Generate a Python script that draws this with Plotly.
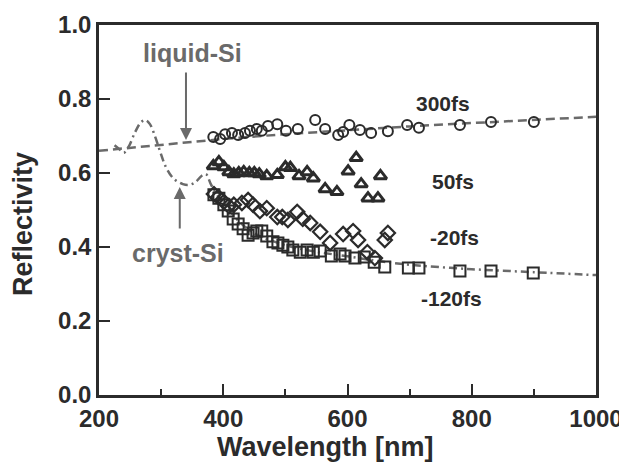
import plotly.graph_objects as go

# ---- data (wavelength nm, reflectivity) ----
fs300_x = [384, 395, 403, 414, 424, 435, 443, 454, 462, 472, 487, 501, 520, 548, 564, 585, 593, 603, 620, 638, 665, 696, 715, 781, 831, 900]
fs300_y = [0.697, 0.692, 0.705, 0.708, 0.703, 0.708, 0.714, 0.719, 0.714, 0.727, 0.732, 0.714, 0.719, 0.743, 0.719, 0.703, 0.711, 0.730, 0.716, 0.708, 0.713, 0.730, 0.722, 0.730, 0.738, 0.738]

fs50_x = [384, 393, 401, 409, 417, 425, 433, 442, 450, 458, 470, 487, 500, 508, 522, 535, 545, 564, 583, 601, 614, 622, 633, 649, 653]
fs50_y = [0.619, 0.630, 0.616, 0.603, 0.597, 0.600, 0.603, 0.600, 0.600, 0.597, 0.592, 0.595, 0.616, 0.614, 0.592, 0.603, 0.586, 0.557, 0.549, 0.605, 0.641, 0.570, 0.532, 0.532, 0.592]

fsm20_x = [385, 392, 401, 409, 417, 430, 440, 448, 459, 470, 487, 495, 504, 519, 528, 540, 556, 572, 593, 609, 617, 632, 644, 660, 665]
fsm20_y = [0.543, 0.535, 0.522, 0.511, 0.514, 0.519, 0.527, 0.514, 0.497, 0.505, 0.481, 0.481, 0.473, 0.495, 0.476, 0.465, 0.441, 0.411, 0.435, 0.443, 0.419, 0.386, 0.370, 0.419, 0.438]

fsm120_x = [385, 393, 401, 408, 416, 424, 432, 440, 448, 454, 462, 470, 480, 488, 496, 504, 512, 524, 535, 545, 556, 574, 588, 596, 612, 627, 643, 660, 698, 715, 781, 831, 899]
fsm120_y = [0.541, 0.532, 0.514, 0.497, 0.476, 0.462, 0.449, 0.432, 0.438, 0.443, 0.443, 0.430, 0.414, 0.411, 0.405, 0.400, 0.392, 0.386, 0.392, 0.386, 0.389, 0.376, 0.381, 0.376, 0.370, 0.373, 0.359, 0.346, 0.343, 0.343, 0.335, 0.335, 0.330]

liquid_x = [200, 250, 300, 350, 400, 500, 600, 700, 800, 900, 1000]
liquid_y = [0.660, 0.668, 0.676, 0.684, 0.692, 0.705, 0.716, 0.726, 0.735, 0.744, 0.752]

cryst_x = [225, 233, 240, 248, 258, 268, 275, 282, 290, 298, 308, 320, 335, 345, 355, 365, 372, 380, 388, 400, 425, 450, 500, 550, 600, 650, 700, 800, 900, 1000]
cryst_y = [0.675, 0.664, 0.655, 0.672, 0.710, 0.738, 0.743, 0.732, 0.700, 0.660, 0.615, 0.585, 0.570, 0.568, 0.575, 0.592, 0.597, 0.570, 0.545, 0.520, 0.470, 0.437, 0.405, 0.387, 0.375, 0.362, 0.352, 0.340, 0.332, 0.324]

series_labels = ["300fs", "50fs", "-20fs", "-120fs"]
label_x = [754, 770, 773, 768]
label_y = [0.789, 0.576, 0.427, 0.262]

x_title = "Wavelength [nm]"
y_title = "Reflectivity"

FONT = "Liberation Sans, Arial, Helvetica, sans-serif"
DARK = "#2b2b2b"
GRAY = "#6a6a6a"

fig = go.Figure()
fig.add_trace(go.Scatter(x=liquid_x, y=liquid_y, mode="lines",
                         line=dict(color=GRAY, width=2.5, dash="9px,5px"), hoverinfo="skip"))
fig.add_trace(go.Scatter(x=cryst_x, y=cryst_y, mode="lines", line_shape="spline",
                         line=dict(color=GRAY, width=2.5, dash="8px,4px,2px,4px"), hoverinfo="skip"))

fig.add_trace(go.Scatter(x=fs300_x, y=fs300_y, mode="markers",
                         marker=dict(symbol="circle-open", size=10, color=DARK, line=dict(width=2))))
fig.add_trace(go.Scatter(x=fs50_x, y=fs50_y, mode="markers",
                         marker=dict(symbol="triangle-up-open", size=11, color=DARK, line=dict(width=3))))
fig.add_trace(go.Scatter(x=fsm20_x, y=fsm20_y, mode="markers",
                         marker=dict(symbol="diamond-open", size=11, color=DARK, line=dict(width=2.2))))
fig.add_trace(go.Scatter(x=fsm120_x, y=fsm120_y, mode="markers",
                         marker=dict(symbol="square-open", size=11, color=DARK, line=dict(width=2))))

annotations = []
for t, x, y in zip(series_labels, label_x, label_y):
    annotations.append(dict(x=x, y=y, text="<b>" + t + "</b>", showarrow=False,
                            font=dict(family=FONT, size=21, color=DARK)))

annotations.append(dict(x=350, y=0.924, text="<b>liquid-Si</b>", showarrow=False,
                        font=dict(family=FONT, size=25, color=GRAY)))
annotations.append(dict(x=327, y=0.384, text="<b>cryst-Si</b>", showarrow=False,
                        font=dict(family=FONT, size=25, color=GRAY)))
annotations.append(dict(x=340, y=0.689, ax=340, ay=0.876, axref="x", ayref="y",
                        text="", showarrow=True, arrowhead=2, arrowsize=1.2,
                        arrowwidth=2, arrowcolor=GRAY))
annotations.append(dict(x=330, y=0.562, ax=330, ay=0.446, axref="x", ayref="y",
                        text="", showarrow=True, arrowhead=2, arrowsize=1.2,
                        arrowwidth=2, arrowcolor=GRAY))
# axis titles
annotations.append(dict(xref="paper", yref="paper", x=0.455, y=-0.141, text="<b>" + x_title + "</b>",
                        showarrow=False, xanchor="center", yanchor="middle",
                        font=dict(family=FONT, size=27, color=DARK)))
annotations.append(dict(xref="paper", yref="paper", x=-0.153, y=0.462, text="<b>" + y_title + "</b>",
                        showarrow=False, xanchor="center", yanchor="middle", textangle=-90,
                        font=dict(family=FONT, size=27, color=DARK)))

# the page body has an 8px default margin, so the figure is 8px smaller
fig.update_layout(
    width=619, height=460,
    margin=dict(l=91, r=31, t=17, b=73, autoexpand=False),
    paper_bgcolor="white", plot_bgcolor="white",
    showlegend=False,
    font=dict(family=FONT, color=DARK),
    annotations=annotations,
    xaxis=dict(range=[200, 1000], dtick=200, tick0=200, automargin=False,
               showline=True, linecolor=DARK, linewidth=2.5, mirror=True,
               ticks="inside", ticklen=11, tickwidth=2, tickcolor=DARK,
               minor=dict(dtick=100, tick0=200, ticks="inside", ticklen=6, tickwidth=2, tickcolor=DARK),
               showgrid=False, zeroline=False,
               tickprefix="<b>", ticksuffix="</b>",
               tickfont=dict(family=FONT, size=24, color=DARK)),
    yaxis=dict(range=[0, 1.0], dtick=0.2, tickformat=".1f", automargin=False,
               showline=True, linecolor=DARK, linewidth=2.5, mirror=True,
               ticks="inside", ticklen=11, tickwidth=2, tickcolor=DARK,
               showgrid=False, zeroline=False,
               tickprefix="<b>", ticksuffix="</b>",
               tickfont=dict(family=FONT, size=24, color=DARK)),
)

fig.write_html("out.html")
